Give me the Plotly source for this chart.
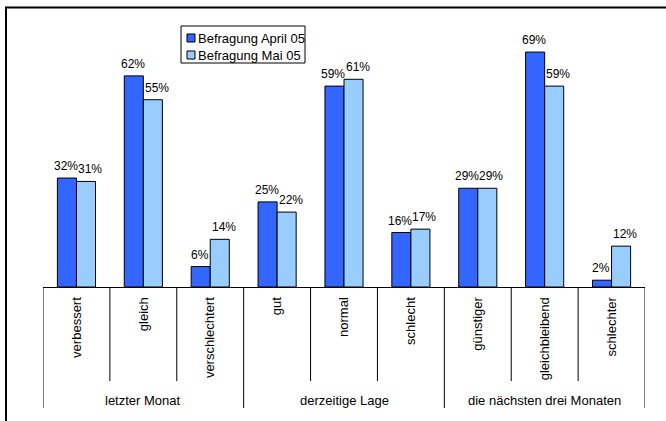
import plotly.graph_objects as go

# Survey answers grouped by question block
groups = ["letzter Monat", "derzeitige Lage", "die nächsten drei Monaten"]
group_sizes = [3, 3, 3]
categories = ["verbessert", "gleich", "verschlechtert",
              "gut", "normal", "schlecht",
              "günstiger", "gleichbleibend", "schlechter"]
series_names = ["Befragung April 05", "Befragung Mai 05"]
april = [32, 62, 6, 25, 59, 16, 29, 69, 2]
mai = [31, 55, 14, 22, 61, 17, 29, 59, 12]
colors = ["#3366FF", "#99CCFF"]

FONT = "Liberation Sans, Arial, Helvetica, sans-serif"
W, H = 666, 421
L, R, T, B = 43, 21, 30, 134
PW, PH = W - L - R, H - T - B
BARGAP = 0.43


def px(x):
    """pixel x -> paper x"""
    return (x - L) / PW


def py(y):
    """pixel y -> paper y"""
    return (H - B - y) / PH


fig = go.Figure()
for name, vals, col in zip(series_names, [april, mai], colors):
    fig.add_trace(go.Bar(
        x=categories, y=vals, name=name,
        marker=dict(color=col, line=dict(color="black", width=1)),
        showlegend=False, hoverinfo="x+y+name",
    ))

shapes = []
annotations = []

# value labels above each bar, nudged apart so neighbours do not collide
bar_w = (1 - BARGAP) / len(series_names)
nudges = [-1, 4]
for s, vals in enumerate([april, mai]):
    off = (s - (len(series_names) - 1) / 2) * bar_w
    for i, v in enumerate(vals):
        annotations.append(dict(text=f"{v}%", xref="x", yref="y", x=i + off, y=v,
                                xanchor="center", yanchor="bottom", yshift=3,
                                xshift=nudges[s], showarrow=False,
                                font=dict(size=12, color="black", family=FONT)))

# category separators below the axis; longer ones between question blocks
bounds = [0]
for s in group_sizes:
    bounds.append(bounds[-1] + s)
for i in range(len(categories) + 1):
    long_line = i in bounds
    shapes.append(dict(type="line", xref="x", yref="paper",
                       x0=i - 0.5, x1=i - 0.5, y0=0,
                       y1=py(408 if long_line else 381),
                       line=dict(color="black", width=1)))

# block labels
for gi, g in enumerate(groups):
    center = (bounds[gi] + bounds[gi + 1] - 1) / 2
    annotations.append(dict(text=g, xref="x", yref="paper", x=center, y=py(400),
                            xanchor="center", yanchor="middle", showarrow=False,
                            font=dict(size=13, color="black", family=FONT)))

# outer frame
shapes.append(dict(type="rect", xref="paper", yref="paper",
                   x0=px(6), x1=px(700), y0=py(7.5), y1=py(440),
                   line=dict(color="black", width=2), fillcolor="rgba(0,0,0,0)"))

# legend box
shapes.append(dict(type="rect", xref="paper", yref="paper",
                   x0=px(181), x1=px(305), y0=py(26), y1=py(63),
                   line=dict(color="black", width=1), fillcolor="white"))
for k, (name, col) in enumerate(zip(series_names, colors)):
    cy = 38 + 17 * k
    shapes.append(dict(type="rect", xref="paper", yref="paper",
                       x0=px(187), x1=px(195), y0=py(cy - 4), y1=py(cy + 4),
                       line=dict(color="black", width=1), fillcolor=col))
    annotations.append(dict(text=name, xref="paper", yref="paper",
                            x=px(196), y=py(cy), xanchor="left", yanchor="middle",
                            showarrow=False,
                            font=dict(size=13, color="black", family=FONT)))

fig.update_layout(
    width=W, height=H,
    margin=dict(l=L, r=R, t=T, b=B, pad=0),
    paper_bgcolor="white", plot_bgcolor="white",
    barmode="group", bargap=BARGAP, bargroupgap=0,
    font=dict(family=FONT, color="black"),
    shapes=shapes, annotations=annotations,
    xaxis=dict(type="category", range=[-0.5, len(categories) - 0.5],
               showline=True, linecolor="black", linewidth=1,
               ticks="", tickangle=-90, showgrid=False, zeroline=False,
               ticklabelstandoff=4,
               tickfont=dict(size=13, color="black", family=FONT)),
    yaxis=dict(visible=False, range=[0, PH / 3.405], fixedrange=True),
)

fig.write_html("out.html")
